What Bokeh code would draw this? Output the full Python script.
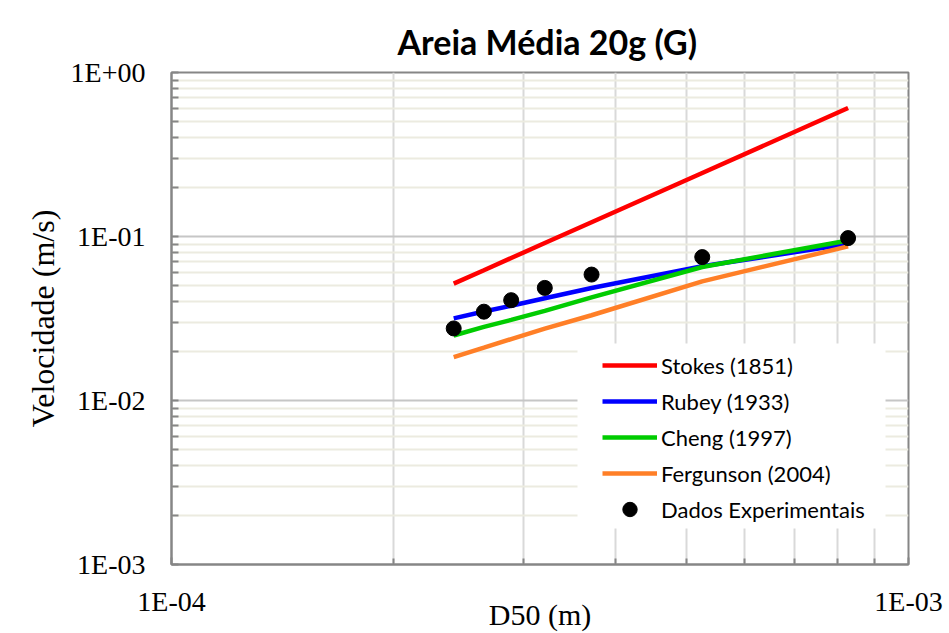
from bokeh.plotting import figure
from bokeh.models import (Range1d, FixedTicker, CustomJSTickFormatter, Title,
                          Legend, LegendItem, BoxAnnotation)
from bokeh.embed import file_html
from bokeh.resources import INLINE

# ---- data ----
d50 = [2.415e-4, 2.654e-4, 2.89e-4, 3.21e-4, 3.715e-4, 5.25e-4, 8.28e-4]
dados = [0.0275, 0.0348, 0.0409, 0.0486, 0.0586, 0.0749, 0.0978]
stokes = [0.0516, 0.0623, 0.0739, 0.0912, 0.1221, 0.2439, 0.607]
rubey = [0.0317, 0.0349, 0.0378, 0.0420, 0.0485, 0.0658, 0.0900]
cheng = [0.0249, 0.0281, 0.0310, 0.0352, 0.0425, 0.0652, 0.0946]
fergunson = [0.0184, 0.0210, 0.0237, 0.0274, 0.0331, 0.0533, 0.0870]

series_names = ["Stokes (1851)", "Rubey (1933)", "Cheng (1997)", "Fergunson (2004)"]
exp_name = "Dados Experimentais"
title_text = "Areia Média 20g (G)"
x_label = "D50 (m)"
y_label = "Velocidade (m/s)"

x_major = [1e-4, 1e-3]
x_minor = [2e-4, 3e-4, 4e-4, 5e-4, 6e-4, 7e-4, 8e-4, 9e-4]
y_major = [1e-3, 1e-2, 1e-1, 1.0]
y_minor = [m * 10.0 ** k for k in (-3, -2, -1) for m in range(2, 10)]

colors = ["#ff0000", "#0000ff", "#00cc00", "#ff7f27"]

p = figure(width=949, height=633, x_axis_type="log", y_axis_type="log",
           x_range=Range1d(1e-4, 1e-3), y_range=Range1d(1e-3, 1.0),
           output_backend="svg", toolbar_location=None,
           min_border_left=171, min_border_right=41,
           min_border_top=72, min_border_bottom=67)
p.background_fill_color = "white"
p.border_fill_color = "white"
p.outline_line_color = "#868686"
p.outline_line_width = 2

fmt = CustomJSTickFormatter(code="""
const e = Math.round(Math.log10(tick));
return "1E" + (e < 0 ? "-" : "+") + String(Math.abs(e)).padStart(2, "0");
""")

xt = FixedTicker(ticks=x_major, minor_ticks=x_minor)
yt = FixedTicker(ticks=y_major, minor_ticks=y_minor)
for ax, t in ((p.xaxis[0], xt), (p.yaxis[0], yt)):
    ax.ticker = t
    ax.formatter = fmt
    ax.axis_line_color = "#868686"
    ax.axis_line_width = 2
    ax.major_tick_line_color = "#868686"
    ax.minor_tick_line_color = "#868686"
    ax.major_tick_line_width = 2
    ax.minor_tick_line_width = 2
    ax.major_tick_in = 7
    ax.major_tick_out = 0
    ax.minor_tick_in = 7
    ax.minor_tick_out = 0
    ax.major_label_text_font = "Liberation Serif"
    ax.major_label_text_font_size = "28px"
    ax.major_label_text_color = "black"

p.xaxis[0].minor_tick_in = 6
p.xaxis[0].major_label_standoff = 21
p.xaxis[0].axis_label = x_label
p.xaxis[0].axis_label_text_font = "Liberation Serif"
p.xaxis[0].axis_label_text_font_size = "30px"
p.xaxis[0].axis_label_text_font_style = "normal"
p.xaxis[0].axis_label_text_color = "black"
p.xaxis[0].axis_label_standoff = -22

p.yaxis[0].major_label_standoff = 26
p.yaxis[0].axis_label = y_label
p.yaxis[0].axis_label_text_font = "Liberation Serif"
p.yaxis[0].axis_label_text_font_size = "32px"
p.yaxis[0].axis_label_text_font_style = "normal"
p.yaxis[0].axis_label_text_color = "black"
p.yaxis[0].axis_label_standoff = 7

p.xgrid.ticker = xt
p.ygrid.ticker = yt
p.xgrid.grid_line_color = None
p.xgrid.minor_grid_line_color = "#d9d9d9"
p.xgrid.minor_grid_line_width = 2
p.ygrid.grid_line_color = "#c6c6c6"
p.ygrid.grid_line_width = 2
p.ygrid.minor_grid_line_color = "#ecebe0"
p.ygrid.minor_grid_line_width = 2

# white legend panel
box = BoxAnnotation(left=406, right=714, bottom=36, top=221,
                    left_units="screen", right_units="screen",
                    bottom_units="screen", top_units="screen",
                    fill_color="white", fill_alpha=1.0, line_alpha=0)
p.add_layout(box)

renderers = []
for ys, c in zip([stokes, rubey, cheng, fergunson], colors):
    r = p.line(d50, ys, line_color=c, line_width=4.5)
    renderers.append(r)
rd = p.scatter(d50, dados, marker="circle", size=15, fill_color="black", line_color="black")

items = [LegendItem(label=n, renderers=[r]) for n, r in zip(series_names, renderers)]
items.append(LegendItem(label=exp_name, renderers=[rd]))
legend = Legend(items=items, location=(431, 37), padding=0, margin=0, spacing=0,
                glyph_width=55, glyph_height=36, label_height=36, label_standoff=4,
                background_fill_alpha=0, border_line_alpha=0,
                label_text_font="Lato", label_text_font_size="22px",
                label_text_color="black")
p.add_layout(legend)

t = Title(text=title_text, align="left", offset=226, standoff=22,
          text_font="Lato", text_font_style="bold", text_font_size="34px",
          text_color="black")
p.add_layout(t, "above")

open("out.html", "w").write(file_html(p, INLINE))
